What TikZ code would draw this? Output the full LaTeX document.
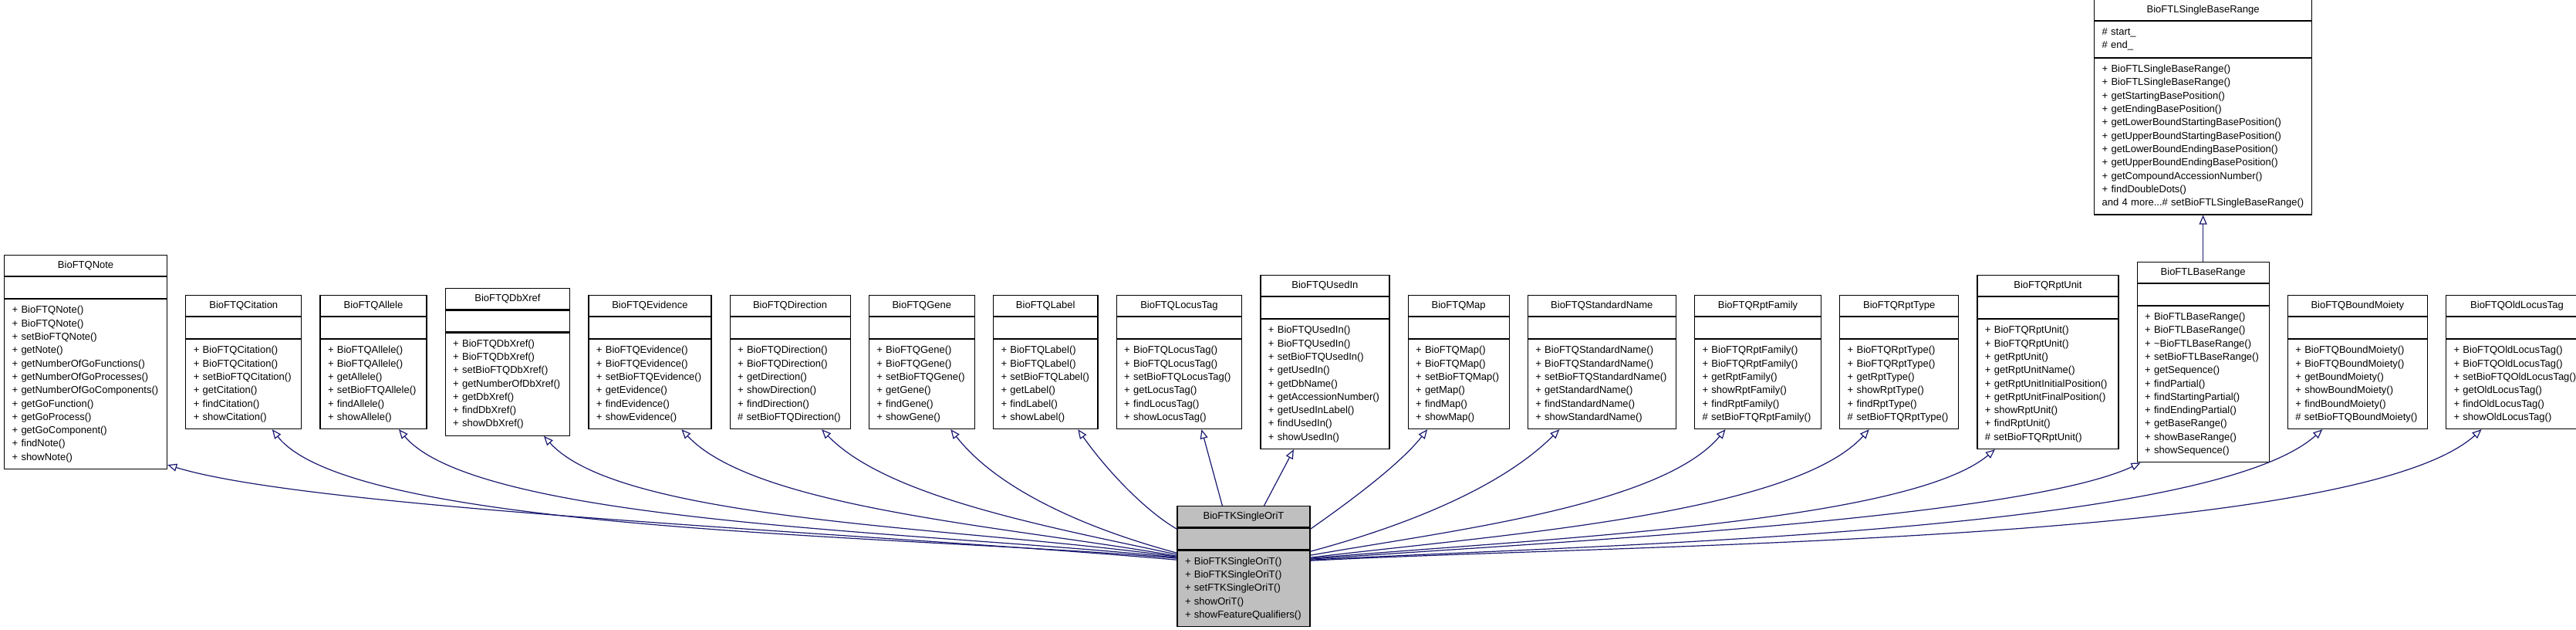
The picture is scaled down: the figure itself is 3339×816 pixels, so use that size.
\documentclass[tikz,border=0pt]{standalone}
\usepackage{fontspec}
\setmainfont{Liberation Sans}
\usetikzlibrary{positioning,arrows.meta}

\definecolor{edgeblue}{HTML}{191970}
\definecolor{focusgray}{HTML}{BFBFBF}

\hyphenpenalty=10000
\parindent=0pt

\tikzset{
	classbox/.style={inner sep=0pt,outer sep=0pt,row sep=0pt,
		nodes={rectangle,draw,fill=white,line width=1.2pt,outer sep=0pt,
			inner xsep=10pt,inner ysep=0pt,text width=#1,
			font=\fontsize{13}{17.3}\selectfont}},
	classname/.style={align=center,minimum height=27pt},
	classattrs/.style={align=left,minimum height=28pt},
	classops/.code={\pgfmathsetmacro\opsheight{12+17.3*#1}%
		\tikzset{align=left,minimum height=\opsheight pt}},
	inheritarrow/.style={draw=edgeblue,line width=1.2pt,
		-{Triangle[open,length=12pt,width=10pt]}},
}

\begin{document}
\begin{tikzpicture}[x=1pt,y=1pt]
	\useasboundingbox (0,0) rectangle (3339,816);

	\matrix (note) [classbox=191pt,anchor=west] at (5,347) {
		\node[classname] (note title) {BioFTQNote}; \\
		\node[classattrs] (note attrs) {}; \\
		\node[classops=12] (note ops) {+~BioFTQNote()\\+~BioFTQNote()\\+~setBioFTQNote()\\+~getNote()\\
			+~getNumberOfGoFunctions()\\+~getNumberOfGoProcesses()\\+~getNumberOfGoComponents()\\
			+~getGoFunction()\\+~getGoProcess()\\+~getGoComponent()\\+~findNote()\\+~showNote()}; \\
	};

	\matrix (citation) [classbox=130pt,right=23pt of note] {
		\node[classname] (citation title) {BioFTQCitation}; \\
		\node[classattrs] (citation attrs) {}; \\
		\node[classops=6] (citation ops) {+~BioFTQCitation()\\+~BioFTQCitation()\\+~setBioFTQCitation()\\
			+~getCitation()\\+~findCitation()\\+~showCitation()}; \\
	};

	\matrix (allele) [classbox=118pt,right=23pt of citation] {
		\node[classname] (allele title) {BioFTQAllele}; \\
		\node[classattrs] (allele attrs) {}; \\
		\node[classops=6] (allele ops) {+~BioFTQAllele()\\+~BioFTQAllele()\\+~getAllele()\\
			+~setBioFTQAllele()\\+~findAllele()\\+~showAllele()}; \\
	};

	\matrix (dbxref) [classbox=141.5pt,right=23pt of allele] {
		\node[classname] (dbxref title) {BioFTQDbXref}; \\
		\node[classattrs] (dbxref attrs) {}; \\
		\node[classops=7] (dbxref ops) {+~BioFTQDbXref()\\+~BioFTQDbXref()\\+~setBioFTQDbXref()\\
			+~getNumberOfDbXref()\\+~getDbXref()\\+~findDbXref()\\+~showDbXref()}; \\
	};

	\matrix (evidence) [classbox=139pt,right=23pt of dbxref] {
		\node[classname] (evidence title) {BioFTQEvidence}; \\
		\node[classattrs] (evidence attrs) {}; \\
		\node[classops=6] (evidence ops) {+~BioFTQEvidence()\\+~BioFTQEvidence()\\+~setBioFTQEvidence()\\
			+~getEvidence()\\+~findEvidence()\\+~showEvidence()}; \\
	};

	\matrix (direction) [classbox=136pt,right=23pt of evidence] {
		\node[classname] (direction title) {BioFTQDirection}; \\
		\node[classattrs] (direction attrs) {}; \\
		\node[classops=6] (direction ops) {+~BioFTQDirection()\\+~BioFTQDirection()\\+~getDirection()\\
			+~showDirection()\\+~findDirection()\\\#~setBioFTQDirection()}; \\
	};

	\matrix (gene) [classbox=117pt,right=23pt of direction] {
		\node[classname] (gene title) {BioFTQGene}; \\
		\node[classattrs] (gene attrs) {}; \\
		\node[classops=6] (gene ops) {+~BioFTQGene()\\+~BioFTQGene()\\+~setBioFTQGene()\\
			+~getGene()\\+~findGene()\\+~showGene()}; \\
	};

	\matrix (label) [classbox=115.5pt,right=23pt of gene] {
		\node[classname] (label title) {BioFTQLabel}; \\
		\node[classattrs] (label attrs) {}; \\
		\node[classops=6] (label ops) {+~BioFTQLabel()\\+~BioFTQLabel()\\+~setBioFTQLabel()\\
			+~getLabel()\\+~findLabel()\\+~showLabel()}; \\
	};

	\matrix (locus tag) [classbox=142.5pt,right=23pt of label] {
		\node[classname] (locus tag title) {BioFTQLocusTag}; \\
		\node[classattrs] (locus tag attrs) {}; \\
		\node[classops=6] (locus tag ops) {+~BioFTQLocusTag()\\+~BioFTQLocusTag()\\+~setBioFTQLocusTag()\\
			+~getLocusTag()\\+~findLocusTag()\\+~showLocusTag()}; \\
	};

	\matrix (used in) [classbox=147pt,right=23pt of locus tag] {
		\node[classname] (used in title) {BioFTQUsedIn}; \\
		\node[classattrs] (used in attrs) {}; \\
		\node[classops=9] (used in ops) {+~BioFTQUsedIn()\\+~BioFTQUsedIn()\\+~setBioFTQUsedIn()\\
			+~getUsedIn()\\+~getDbName()\\+~getAccessionNumber()\\+~getUsedInLabel()\\
			+~findUsedIn()\\+~showUsedIn()}; \\
	};

	\matrix (map) [classbox=111pt,right=23pt of used in] {
		\node[classname] (map title) {BioFTQMap}; \\
		\node[classattrs] (map attrs) {}; \\
		\node[classops=6] (map ops) {+~BioFTQMap()\\+~BioFTQMap()\\+~setBioFTQMap()\\
			+~getMap()\\+~findMap()\\+~showMap()}; \\
	};

	\matrix (standard name) [classbox=172pt,right=23pt of map] {
		\node[classname] (standard name title) {BioFTQStandardName}; \\
		\node[classattrs] (standard name attrs) {}; \\
		\node[classops=6] (standard name ops) {+~BioFTQStandardName()\\+~BioFTQStandardName()\\
			+~setBioFTQStandardName()\\+~getStandardName()\\+~findStandardName()\\+~showStandardName()}; \\
	};

	\matrix (rpt family) [classbox=144pt,right=23pt of standard name] {
		\node[classname] (rpt family title) {BioFTQRptFamily}; \\
		\node[classattrs] (rpt family attrs) {}; \\
		\node[classops=6] (rpt family ops) {+~BioFTQRptFamily()\\+~BioFTQRptFamily()\\+~getRptFamily()\\
			+~showRptFamily()\\+~findRptFamily()\\\#~setBioFTQRptFamily()}; \\
	};

	\matrix (rpt type) [classbox=134pt,right=23pt of rpt family] {
		\node[classname] (rpt type title) {BioFTQRptType}; \\
		\node[classattrs] (rpt type attrs) {}; \\
		\node[classops=6] (rpt type ops) {+~BioFTQRptType()\\+~BioFTQRptType()\\+~getRptType()\\
			+~showRptType()\\+~findRptType()\\\#~setBioFTQRptType()}; \\
	};

	\matrix (rpt unit) [classbox=163pt,right=23pt of rpt type] {
		\node[classname] (rpt unit title) {BioFTQRptUnit}; \\
		\node[classattrs] (rpt unit attrs) {}; \\
		\node[classops=9] (rpt unit ops) {+~BioFTQRptUnit()\\+~BioFTQRptUnit()\\+~getRptUnit()\\
			+~getRptUnitName()\\+~getRptUnitInitialPosition()\\+~getRptUnitFinalPosition()\\
			+~showRptUnit()\\+~findRptUnit()\\\#~setBioFTQRptUnit()}; \\
	};

	\matrix (base range) [classbox=151pt,right=23pt of rpt unit] {
		\node[classname] (base range title) {BioFTLBaseRange}; \\
		\node[classattrs] (base range attrs) {}; \\
		\node[classops=11] (base range ops) {+~BioFTLBaseRange()\\+~BioFTLBaseRange()\\
			+~\textasciitilde BioFTLBaseRange()\\+~setBioFTLBaseRange()\\+~getSequence()\\+~findPartial()\\
			+~findStartingPartial()\\+~findEndingPartial()\\+~getBaseRange()\\+~showBaseRange()\\
			+~showSequence()}; \\
	};

	\matrix (bound moiety) [classbox=161pt,right=23pt of base range] {
		\node[classname] (bound moiety title) {BioFTQBoundMoiety}; \\
		\node[classattrs] (bound moiety attrs) {}; \\
		\node[classops=6] (bound moiety ops) {+~BioFTQBoundMoiety()\\+~BioFTQBoundMoiety()\\
			+~getBoundMoiety()\\+~showBoundMoiety()\\+~findBoundMoiety()\\\#~setBioFTQBoundMoiety()}; \\
	};

	\matrix (old locus tag) [classbox=164pt,right=23pt of bound moiety] {
		\node[classname] (old locus tag title) {BioFTQOldLocusTag}; \\
		\node[classattrs] (old locus tag attrs) {}; \\
		\node[classops=6] (old locus tag ops) {+~BioFTQOldLocusTag()\\+~BioFTQOldLocusTag()\\
			+~setBioFTQOldLocusTag()\\+~getOldLocusTag()\\+~findOldLocusTag()\\+~showOldLocusTag()}; \\
	};

	\matrix (single base range) [classbox=262pt,above=60pt of base range] {
		\node[classname] (single base range title) {BioFTLSingleBaseRange}; \\
		\node[classops=2] (single base range attrs) {\#~start\_\\\#~end\_}; \\
		\node[classops=11] (single base range ops) {+~BioFTLSingleBaseRange()\\+~BioFTLSingleBaseRange()\\
			+~getStartingBasePosition()\\+~getEndingBasePosition()\\
			+~getLowerBoundStartingBasePosition()\\+~getUpperBoundStartingBasePosition()\\
			+~getLowerBoundEndingBasePosition()\\+~getUpperBoundEndingBasePosition()\\
			+~getCompoundAccessionNumber()\\+~findDoubleDots()\\
			and~4~more...\#~setBioFTLSingleBaseRange()}; \\
	};

	\matrix (single orit) [classbox=152pt,nodes={fill=focusgray}] at (1612,82.25) {
		\node[classname] (single orit title) {BioFTKSingleOriT}; \\
		\node[classattrs] (single orit attrs) {}; \\
		\node[classops=5] (single orit ops) {+~BioFTKSingleOriT()\\+~BioFTKSingleOriT()\\
			+~setFTKSingleOriT()\\+~showOriT()\\+~showFeatureQualifiers()}; \\
	};

	\draw[inheritarrow] (base range.north) -- (single base range.south);

	\draw[inheritarrow] ([yshift=-70pt]single orit.north west) .. controls +(175:400) and +(-17:200) .. ([yshift=6pt]note.south east);
	\draw[inheritarrow] ([yshift=-68pt]single orit.north west) .. controls +(175:350) and +(-52:170) .. ([xshift=37pt]citation.south);
	\draw[inheritarrow] ([yshift=-67pt]single orit.north west) .. controls +(174:320) and +(-50:160) .. ([xshift=33pt]allele.south);
	\draw[inheritarrow] ([yshift=-66pt]single orit.north west) .. controls +(172:280) and +(-48:150) .. ([xshift=47pt]dbxref.south);
	\draw[inheritarrow] ([yshift=-65pt]single orit.north west) .. controls +(170:220) and +(-47:140) .. ([xshift=41pt]evidence.south);
	\draw[inheritarrow] ([yshift=-63pt]single orit.north west) .. controls +(168:180) and +(-46:120) .. ([xshift=41pt]direction.south);
	\draw[inheritarrow] ([yshift=-61pt]single orit.north west) .. controls +(165:120) and +(-52:100) .. ([xshift=37.5pt]gene.south);
	\draw[inheritarrow] ([yshift=-30pt]single orit.north west) .. controls +(150:50) and +(-55:60) .. ([xshift=42pt]label.south);
	\draw[inheritarrow] ([xshift=59pt]single orit.north west) -- ([xshift=29pt]locus tag.south);
	\draw[inheritarrow] ([xshift=113pt]single orit.north west) -- ([xshift=-40.5pt]used in.south);

	\draw[inheritarrow] ([yshift=-30pt]single orit.north east) .. controls +(35:50) and +(-128:60) .. ([xshift=-40.5pt]map.south);
	\draw[inheritarrow] ([yshift=-59pt]single orit.north east) .. controls +(15:120) and +(-135:110) .. ([xshift=-55pt]standard name.south);
	\draw[inheritarrow] ([yshift=-64pt]single orit.north east) .. controls +(10:180) and +(-130:130) .. ([xshift=-42pt]rpt family.south);
	\draw[inheritarrow] ([yshift=-67pt]single orit.north east) .. controls +(7:230) and +(-132:150) .. ([xshift=-39pt]rpt type.south);
	\draw[inheritarrow] ([yshift=-68pt]single orit.north east) .. controls +(5:280) and +(-140:150) .. ([xshift=-68.5pt]rpt unit.south);
	\draw[inheritarrow] ([yshift=-69pt]single orit.north east) .. controls +(4:330) and +(-155:170) .. ([xshift=5pt]base range.south west);
	\draw[inheritarrow] ([yshift=-70pt]single orit.north east) .. controls +(3:380) and +(-138:200) .. ([xshift=-45.5pt]bound moiety.south);
	\draw[inheritarrow] ([yshift=-71pt]single orit.north east) .. controls +(3:420) and +(-138:220) .. ([xshift=-46pt]old locus tag.south);

\end{tikzpicture}
\end{document}
